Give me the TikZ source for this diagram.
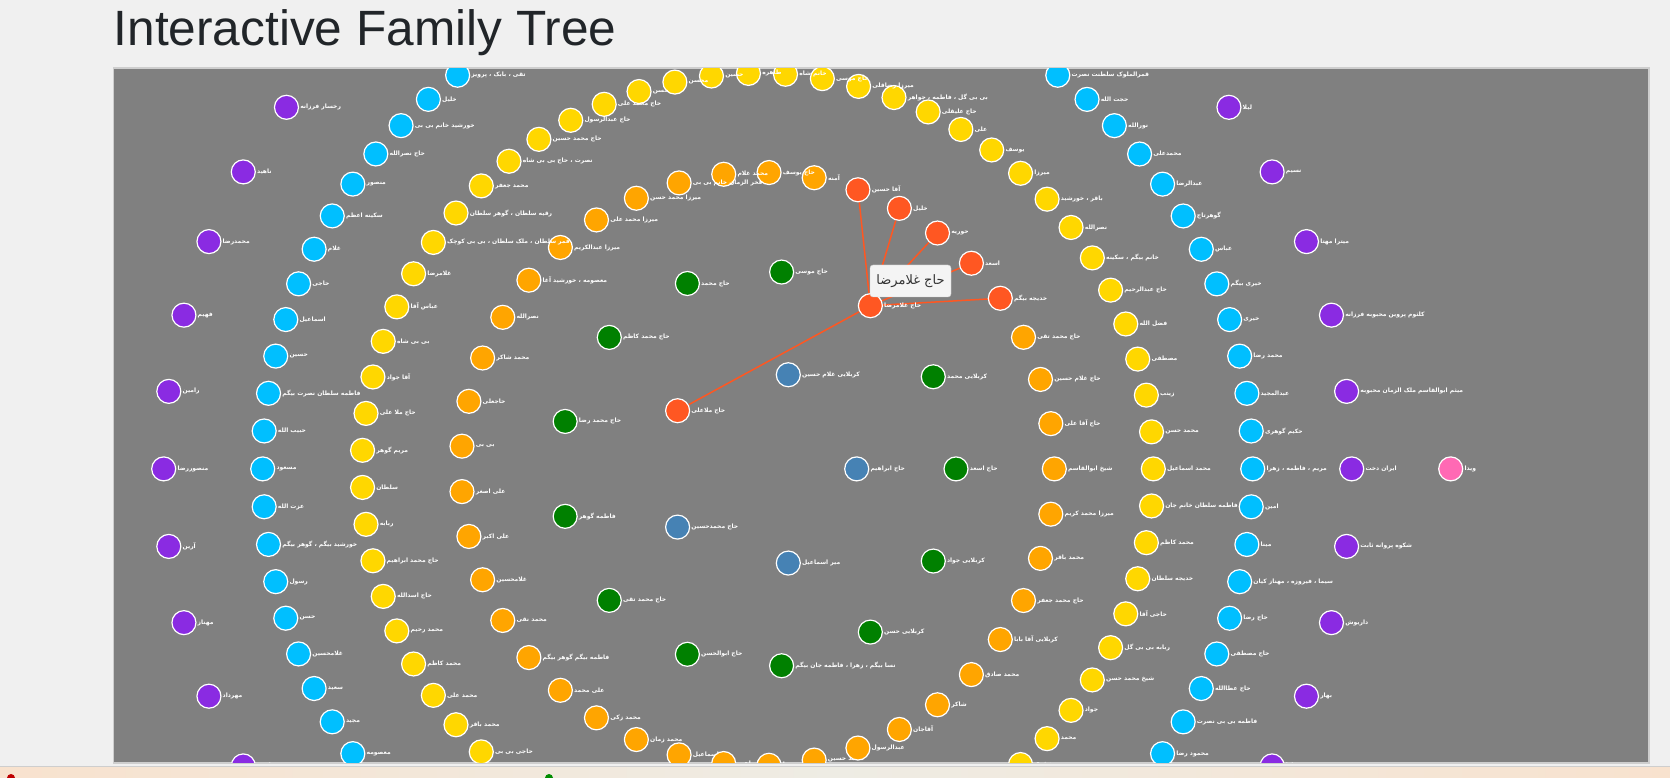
\documentclass[tikz,border=0pt]{standalone}
\usepackage{fontspec}
\setmainfont{Liberation Sans}
\newfontfamily\fafont[Script=Arabic]{DejaVu Sans}
\TeXXeTstate=1
\usepackage{xcolor}
\usetikzlibrary{positioning, backgrounds}
\definecolor{pagebg}{RGB}{240,240,240}
\definecolor{panelgray}{RGB}{128,128,128}
\definecolor{paneledge}{RGB}{206,206,206}
\definecolor{titlegray}{RGB}{33,37,41}
\definecolor{depthblue}{RGB}{70,130,180}
\definecolor{depthgreen}{RGB}{0,128,0}
\definecolor{depthorange}{RGB}{255,165,0}
\definecolor{depthyellow}{RGB}{255,215,0}
\definecolor{depthcyan}{RGB}{0,191,255}
\definecolor{depthpurple}{RGB}{138,43,226}
\definecolor{depthpink}{RGB}{255,105,180}
\definecolor{hilite}{RGB}{255,87,34}
\definecolor{tipbg}{RGB}{244,244,244}
\definecolor{tipedge}{RGB}{204,204,204}
\definecolor{stripA}{RGB}{248,226,206}
\definecolor{stripB}{RGB}{238,236,228}
\newcommand{\fa}[1]{{\fafont\beginR #1\endR}}

\tikzset{
  person/.style={circle, draw=white, line width=1.2pt, minimum size=24pt, inner sep=0pt},
  rank1/.style={person, fill=depthblue},
  rank2/.style={person, fill=depthgreen},
  rank3/.style={person, fill=depthorange},
  rank4/.style={person, fill=depthyellow},
  rank5/.style={person, fill=depthcyan},
  rank6/.style={person, fill=depthpurple},
  rank7/.style={person, fill=depthpink},
  hot/.style={person, fill=hilite},
  who/.style={text=white, font=\fontsize{6}{7}\selectfont\bfseries, inner sep=0pt},
  kin/.style={hilite, line width=1.5pt},
  tip/.style={fill=tipbg, draw=tipedge, rounded corners=3pt, minimum width=81pt,
    minimum height=32pt, inner sep=0pt, text=black!80, font=\fontsize{13}{15}\selectfont},
}

\begin{document}
\begin{tikzpicture}[x=1pt, y=1pt]
  \useasboundingbox (0,0) rectangle (1670,777);
  \def\cx{757.7}\def\cy{308.1}

  % Title
  \node[anchor=base west, inner sep=0pt, text=titlegray,
    font=\fontsize{49.6}{56}\selectfont] (title) at (113.5,731.2) {Interactive Family Tree};

  \begin{scope}
    \clip (114,15) rectangle (1648,708);
    \begin{scope}[shift={(\cx,\cy)}]
      % Ring 1
      \foreach \k/\nm in {0/{حاج ابراهیم}, 1/{کربلایی غلام حسین}, 3/{حاج محمدحسین}, 4/{میر اسماعیل}}{
        \node[rank1] (b\k) at ({\k*72}:99) {};
        \node[who, right=1pt of b\k] (bl\k) {\fa{\nm}};
      }
      \node[hot] (b2) at (144:99) {};
      \node[who, right=1pt of b2] (bl2) {\fa{حاج ملاعلی}};

      % Ring 2
      \foreach \k/\nm in {0/{حاج اسعد}, 1/{کربلایی محمد}, 3/{حاج موسی}, 4/{حاج محمد},
        5/{حاج محمد کاظم}, 6/{حاج محمد رضا}, 7/{فاطمه گوهر}, 8/{حاج محمد تقی},
        9/{حاج ابوالحسن}, 10/{نسا بیگم ، زهرا ، فاطمه جان بیگم}, 11/{کربلایی حسن},
        12/{کربلایی جواد}}{
        \node[rank2] (g\k) at ({\k/13*360}:198.3) {};
        \node[who, right=1pt of g\k] (gl\k) {\fa{\nm}};
      }
      \node[hot] (g2) at ({2/13*360}:198.3) {};
      \node[who, right=1pt of g2] (gl2) {\fa{حاج غلامرضا}};

      % Ring 3
      \foreach \k/\nm in {0/{شیخ ابوالقاسم}, 1/{حاج آقا علی}, 2/{حاج غلام حسین},
        3/{حاج محمد تقی}, 9/{آمنه}, 10/{حاج یوسف}, 11/{محمد غلام},
        12/{فخر الزمان خانم بی بی}, 13/{میرزا محمد حسن}, 14/{میرزا محمد علی},
        15/{میرزا عبدالکریم}, 16/{معصومه ، خورشید آغا}, 17/{نصرالله}, 18/{محمد شاکر},
        19/{حاجعلی}, 20/{بی بی}, 21/{علی اصغر}, 22/{علی اکبر}, 23/{غلامحسین},
        24/{محمد نقی}, 25/{فاطمه بیگم گوهر بیگم}, 26/{علی محمد}, 27/{محمد زکی},
        28/{محمد زمان}, 29/{اسماعیل}, 30/{ابراهیم}, 31/{رضا}, 32/{محمد حسین},
        33/{عبدالرسول}, 34/{آقاجان}, 35/{شاکر}, 36/{محمد صادق}, 37/{کربلایی آقا بابا},
        38/{حاج محمد جعفر}, 39/{محمد باقر}, 40/{میرزا محمد کریم}}{
        \node[rank3] (o\k) at ({\k/41*360}:296.6) {};
        \node[who, right=1pt of o\k] (ol\k) {\fa{\nm}};
      }
      \foreach \k/\nm in {4/{خدیجه بیگم}, 5/{اسعد}, 6/{حوریه}, 7/{خلیل}, 8/{آقا حسین}}{
        \node[hot] (o\k) at ({\k/41*360}:296.6) {};
        \node[who, right=1pt of o\k] (ol\k) {\fa{\nm}};
      }

      % Ring 4
      \foreach \k/\nm in {0/{محمد اسماعیل}, 1/{محمد حسن}, 2/{زینب}, 3/{مصطفی},
        4/{فضل الله}, 5/{حاج عبدالرحیم}, 6/{خانم بیگم ، سکینه}, 7/{نصرالله},
        8/{باقر ، خورشید}, 9/{میرزا}, 10/{یوسف}, 11/{علی}, 12/{حاج علیقلی},
        13/{بی بی گل ، فاطمه ، جواهر}, 14/{میرزا رضاقلی}, 15/{حاج موسی},
        16/{خانم شاه}, 17/{طاهره}, 18/{حسین}, 19/{محسن}, 20/{حسن},
        21/{حاج محمد علی}, 22/{حاج عبدالرسول}, 23/{حاج محمد حسین},
        24/{نصرت ، حاج بی بی شاه}, 25/{محمد جعفر}, 26/{رقیه سلطان ، گوهر سلطان},
        27/{قمر سلطان ، ملک سلطان ، بی بی کوچک}, 28/{غلامرضا}, 29/{عباس آقا},
        30/{بی بی شاه}, 31/{آقا جواد}, 32/{حاج ملا علی}, 33/{مریم گوهر},
        34/{سلطان}, 35/{ربابه}, 36/{حاج محمد ابراهیم}, 37/{حاج اسدالله},
        38/{محمد رحیم}, 39/{محمد کاظم}, 40/{محمد علی}, 41/{محمد باقر},
        42/{حاجی بی بی}, 58/{صغری}, 59/{محمد}, 60/{جواد}, 61/{شیخ محمد حسن},
        62/{ربابه بی بی گل}, 63/{حاجی آقا}, 64/{خدیجه سلطان}, 65/{محمد کاظم},
        66/{فاطمه سلطان خانم جان}}{
        \node[rank4] (y\k) at ({\k/67*360}:395.6) {};
        \node[who, right=1pt of y\k] (yl\k) {\fa{\nm}};
      }

      % Ring 5
      \foreach \k/\nm in {0/{مریم ، فاطمه ، زهرا}, 1/{حکیم گوهری}, 2/{عبدالمجید},
        3/{محمد رضا}, 4/{خیری}, 5/{خیری بیگم}, 6/{عباس}, 7/{گوهرتاج},
        8/{عبدالرضا}, 9/{محمدعلی}, 10/{نورالله}, 11/{حجت الله},
        12/{قمرالملوک سلطنت نصرت}, 29/{تقی ، بابک ، پرویز}, 30/{خلیل},
        31/{خورشید خانم بی بی}, 32/{حاج نصرالله}, 33/{منصور}, 34/{سکینه اعظم},
        35/{غلام}, 36/{حاجی}, 37/{اسماعیل}, 38/{حسین}, 39/{فاطمه سلطان نصرت بیگم},
        40/{حبیب الله}, 41/{مسعود}, 42/{عزت الله}, 43/{خورشید بیگم ، گوهر بیگم},
        44/{رسول}, 45/{حسن}, 46/{غلامحسین}, 47/{سعید}, 48/{مجید}, 49/{معصومه},
        74/{محمود رضا}, 75/{فاطمه بی بی نصرت}, 76/{حاج عطاالله}, 77/{حاج مصطفی},
        78/{حاج رضا}, 79/{سیما ، فیروزه ، مهناز کیان}, 80/{مینا}, 81/{امین}}{
        \node[rank5] (c\k) at ({\k/82*360}:495) {};
        \node[who, right=1pt of c\k] (cl\k) {\fa{\nm}};
      }

      % Ring 6
      \foreach \k/\nm in {0/{ایران دخت}, 1/{میثم ابوالقاسم ملک الزمان محبوبه},
        2/{کلثوم پروین محبوبه فرزانه}, 3/{میترا مهتا}, 4/{نسیم}, 5/{لیلا},
        19/{رخسار فرزانه}, 20/{ناهید}, 21/{محمدرضا}, 22/{فهیم}, 23/{رامین},
        24/{منصوررضا}, 25/{آرین}, 26/{مهناز}, 27/{مهرداد}, 28/{نیلوفر},
        44/{سارا}, 45/{بهار}, 46/{داریوش}, 47/{شکوه پروانه ثابت}}{
        \node[rank6] (p\k) at ({\k*7.5}:594) {};
        \node[who, right=1pt of p\k] (pl\k) {\fa{\nm}};
      }

      % Ring 7
      \node[rank7] (k0) at (0:693) {};
      \node[who, right=1pt of k0] (kl0) {\fa{ویدا}};
    \end{scope}
  \end{scope}

  % Links of the hovered person
  \begin{pgfonlayer}{background}
    \fill[pagebg] (0,0) rectangle (1670,777);
    \fill[panelgray] (114,15) rectangle (1648,708);
    \draw[paneledge, line width=1.5pt] (113.25,14.25) rectangle (1648.75,708.75);
    \draw[kin] (g2) -- (b2);
    \foreach \k in {4,...,8}
      \draw[kin] (g2) -- (o\k);
  \end{pgfonlayer}

  % Tooltip
  \node[tip] (tooltip) at (910.5,496) {\fa{حاج غلامرضا}};

  % Bottom bar
  \shade[left color=stripA, right color=stripA, middle color=stripB] (0,0) rectangle (1670,10);
  \draw[paneledge, line width=1pt] (0,10.5) -- (1670,10.5);
  \fill[red!75!black] (11,-1) circle (4);
  \fill[green!55!black] (549,-1) circle (4);
\end{tikzpicture}
\end{document}
